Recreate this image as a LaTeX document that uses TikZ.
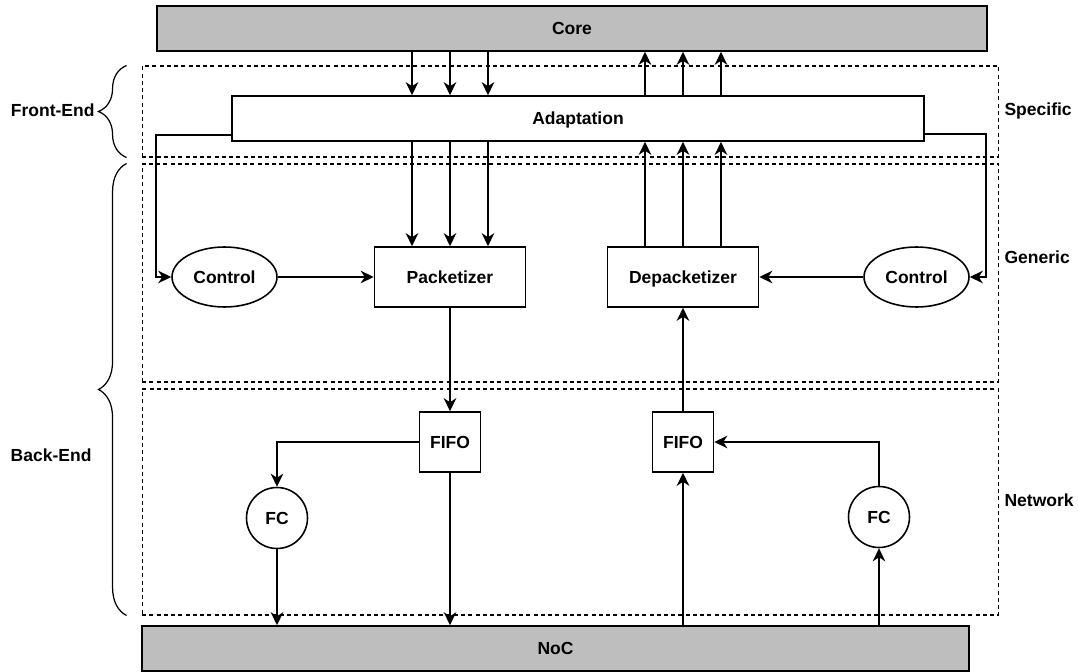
\documentclass[tikz,border=0pt]{standalone}
\usepackage{fontspec}
\setmainfont{Liberation Sans}
\usetikzlibrary{arrows.meta,shapes.geometric,decorations.pathreplacing}

\definecolor{bargray}{RGB}{190,190,190}

\tikzset{
  bar/.style={draw, fill=bargray, inner sep=0pt, minimum height=0.9cm},
  box/.style={draw, fill=white, inner sep=0pt, minimum height=1.2cm},
  ctrl/.style={draw, ellipse, fill=white, inner sep=0pt, minimum width=2.1cm, minimum height=1.2cm},
  fifo/.style={draw, fill=white, inner sep=0pt, minimum width=1.22cm, minimum height=1.2cm},
  fc/.style={draw, circle, fill=white, inner sep=0pt, minimum size=1.22cm},
  region/.style={draw, dash pattern=on 0.08cm off 0.065cm, line width=0.6pt, inner sep=0pt, minimum width=17.14cm},
  arr/.style={-{Stealth[length=0.26cm, width=0.25cm, inset=0.08cm]}},
  brc/.style={decorate, decoration={brace, amplitude=0.56cm}, line width=0.7pt},
  lbl/.style={inner sep=1pt}
}

\begin{document}
\begin{tikzpicture}[x=0.02cm, y=-0.02cm, line width=0.9pt,
    font=\fontsize{9.96pt}{12pt}\selectfont\bfseries,
    every node/.append style={text height=0.72em, text depth=0pt}]
  \useasboundingbox (0,0) rectangle (1078,672);

  \node[region, minimum height=1.82cm] (spec) at (570.5,111.5) {};
  \node[region, minimum height=4.36cm] (gen) at (570.5,273) {};
  \node[region, minimum height=4.52cm] (net) at (570.5,502) {};

  \node[bar, minimum width=16.6cm] (core) at (572,28.5) {Core};
  \node[bar, minimum width=16.54cm] (noc) at (555.5,648.5) {NoC};
  \node[box, minimum width=13.84cm, minimum height=0.9cm] (adapt) at (578,118.5) {Adaptation};

  \node[ctrl] (ctrlL) at (224.5,277) {Control};
  \node[box, minimum width=3.02cm] (pack) at (450,277) {Packetizer};
  \node[box, minimum width=3.02cm] (depack) at (683,277) {Depacketizer};
  \node[ctrl] (ctrlR) at (916.5,277) {Control};

  \node[fifo] (fifoL) at (450,442) {FIFO};
  \node[fifo] (fifoR) at (683,442) {FIFO};
  \node[fc] (fcL) at (277,518) {FC};
  \node[fc] (fcR) at (879,517) {FC};

  \foreach \dx in {-0.76,0,0.76} {
    \path ([xshift=\dx cm]pack.north) coordinate (tin);
    \path ([xshift=\dx cm]depack.north) coordinate (tout);
    \draw[arr] (tin |- core.south) -- (tin |- adapt.north);
    \draw[arr] (tin |- adapt.south) -- (tin);
    \draw[arr] (tout) -- (tout |- adapt.south);
    \draw[arr] (tout |- adapt.north) -- (tout |- core.south);
  }

  \draw[arr] ([yshift=0.14cm]adapt.south west) -| ([xshift=-0.3cm]ctrlL.west) -- (ctrlL.west);
  \draw[arr] ([yshift=0.15cm]adapt.south east) -| ([xshift=0.32cm]ctrlR.east) -- (ctrlR.east);
  \draw[arr] (ctrlL) -- (pack);
  \draw[arr] (ctrlR) -- (depack);

  \draw[arr] (pack) -- (fifoL);
  \draw[arr] (fifoR) -- (depack);
  \draw[arr] (fifoL.west) -| (fcL.north);
  \draw[arr] (fcR.north) |- (fifoR.east);
  \draw[arr] (fcL.south) -- (fcL.south |- noc.north);
  \draw[arr] (fifoL.south) -- (fifoL.south |- noc.north);
  \draw[arr] (fifoR.south |- noc.north) -- (fifoR.south);
  \draw[arr] (fcR.south |- noc.north) -- (fcR.south);

  \draw[brc] ([xshift=-0.3cm]spec.south west) -- ([xshift=-0.3cm]spec.north west);
  \draw[brc] ([xshift=-0.3cm]net.south west) -- ([xshift=-0.3cm]gen.north west);

  \node[lbl, anchor=east] (front) at (97,110) {Front-End};
  \node[lbl, anchor=east] (back) at (94,455) {Back-End};
  \node[lbl, anchor=west] (specL) at (1002,109) {Specific};
  \node[lbl, anchor=west] (genL) at (1002,257) {Generic};
  \node[lbl, anchor=west] (netL) at (1002,500) {Network};
\end{tikzpicture}
\end{document}
